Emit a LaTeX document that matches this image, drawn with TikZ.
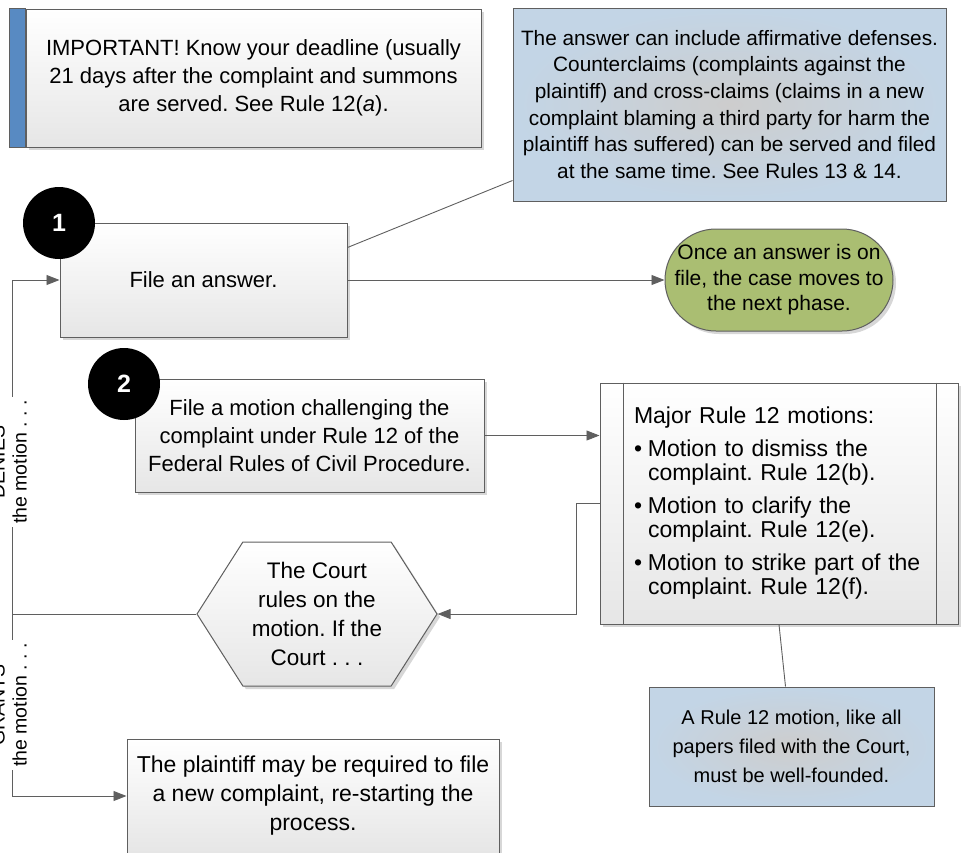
\documentclass[tikz,border=0pt]{standalone}
\usepackage{fontspec}
\setmainfont{Liberation Sans}
\usepackage{xcolor}
\usepackage{tikz}
\usetikzlibrary{shapes.geometric, shapes.symbols, arrows.meta, positioning, shadows}
\definecolor{linegray}{RGB}{95,95,95}
\definecolor{boxbottom}{RGB}{230,230,230}
\definecolor{stripblue}{RGB}{88,138,194}
\definecolor{noteblue}{RGB}{195,213,230}
\definecolor{notegray}{RGB}{205,205,205}
\definecolor{phasegreen}{RGB}{170,190,114}
\definecolor{shadowgray}{RGB}{215,215,215}
\frenchspacing

\begin{document}
\begin{tikzpicture}[x=1pt, y=-1pt,
    shade/.style={drop shadow={shadow xshift=3pt, shadow yshift=-3pt, fill=shadowgray, opacity=1}},
    box/.style={rectangle, draw=linegray, line width=1pt, top color=white, bottom color=boxbottom, align=center, shade, font=\fontsize{22}{28}\selectfont},
    note/.style={rectangle, draw=linegray, line width=1pt, inner color=notegray, outer color=noteblue, align=center, font=\fontsize{20.8}{26.7}\selectfont},
    phase/.style={rectangle, rounded corners=51pt, draw=linegray, line width=1pt, fill=phasegreen, align=center, shade, font=\fontsize{21}{25.5}\selectfont},
    court/.style={signal, signal to=west and east, signal pointer angle=115, draw=linegray, line width=1pt, top color=white, bottom color=boxbottom, align=center, shade, font=\fontsize{22.5}{29}\selectfont},
    num/.style={circle, fill=black, text=white, minimum size=72pt, inner sep=0pt, font=\fontsize{25}{25}\selectfont\bfseries},
    lbl/.style={rotate=90, yshift=3pt, fill=white, align=center, inner sep=3pt, font=\fontsize{19.5}{22}\selectfont},
    link/.style={draw=linegray, line width=0.9pt},
    arrow/.style={-{Triangle[length=13pt, width=10pt]}, draw=linegray, line width=0.9pt}
]
\useasboundingbox (0,0) rectangle (961,852);

\node[box, minimum width=455pt, minimum height=138pt] (deadline) at (253.5,78) {IMPORTANT! Know your deadline (usually\\21 days after the complaint and summons\\are served. See Rule 12(\textit{a}).};
\filldraw[fill=stripblue, draw=linegray, line width=1pt] ([xshift=-16pt]deadline.south west) rectangle (deadline.north west);
\node[note, minimum width=433pt, minimum height=193pt] (defenses) at (729.5,104.5) {The answer can include affirmative defenses.\\Counterclaims (complaints against the\\plaintiff) and cross-claims (claims in a new\\complaint blaming a third party for harm the\\plaintiff has suffered) can be served and filed\\at the same time. See Rules 13 \& 14.};

\node[box, minimum width=287pt, minimum height=114pt] (answer) at (203.5,280) {File an answer.};
\node[phase, minimum width=228pt, minimum height=102pt] (nextphase) at (779,280) {Once an answer is on\\file, the case moves to\\the next phase.};
\node[num] (one) at (59,223) {1};

\node[box, minimum width=349pt, minimum height=113pt] (motion) at (309.5,435.5) {File a motion challenging the\\complaint under Rule 12 of the\\Federal Rules of Civil Procedure.};
\node[num] (two) at (124,384) {2};
\node[box, minimum width=358pt, minimum height=241pt, text width=290pt, align=left, font=\fontsize{23}{24}\selectfont] (rules) at (779,503.5) {Major Rule 12 motions:\\[9pt]
\makebox[14pt][l]{\textbullet}Motion to dismiss the\\\hspace*{14pt}complaint. Rule 12(b).\\[9pt]
\makebox[14pt][l]{\textbullet}Motion to clarify the\\\hspace*{14pt}complaint. Rule 12(e).\\[9pt]
\makebox[14pt][l]{\textbullet}Motion to strike part of the\\\hspace*{14pt}complaint. Rule 12(f).};
\draw[link] ([xshift=24pt]rules.north west) -- ([xshift=24pt]rules.south west);
\draw[link] ([xshift=-22pt]rules.north east) -- ([xshift=-22pt]rules.south east);

\node[court, minimum width=240pt, minimum height=144pt, inner sep=0pt] (ruling) at (317,614) {The Court\\rules on the\\motion. If the\\Court . . .};
\node[note, minimum width=285pt, minimum height=119pt, font=\fontsize{20}{29}\selectfont] (wellfounded) at (791.5,746.5) {A Rule 12 motion, like all\\papers filed with the Court,\\must be well-founded.};
\node[box, minimum width=372pt, minimum height=114pt, font=\fontsize{23}{29}\selectfont] (plaintiff) at (313,796) {The plaintiff may be required to file\\a new complaint, re-starting the\\process.};

\coordinate (rail) at (12,614);

\draw[link] ([yshift=-25pt]answer.north east) -- ([yshift=21pt]defenses.south west);
\draw[arrow] (answer.east) -- (nextphase.west);
\draw[arrow] (motion.east) -- (motion.east -| rules.west);
\draw[arrow] (rules.west) -- ++(-23,0) |- (ruling.east);
\draw[link] (rules.south) -- ([xshift=-6pt]wellfounded.north);
\draw[link] (ruling.west) -- (rail);
\draw[arrow] (rail) -- node[lbl, pos=0.455] {DENIES\\the motion . . .} (rail |- answer.west) -- (answer.west);
\draw[arrow] (rail) -- node[lbl, pos=0.5] {GRANTS\\the motion . . .} (rail |- plaintiff.west) -- (plaintiff.west);

\end{tikzpicture}
\end{document}
